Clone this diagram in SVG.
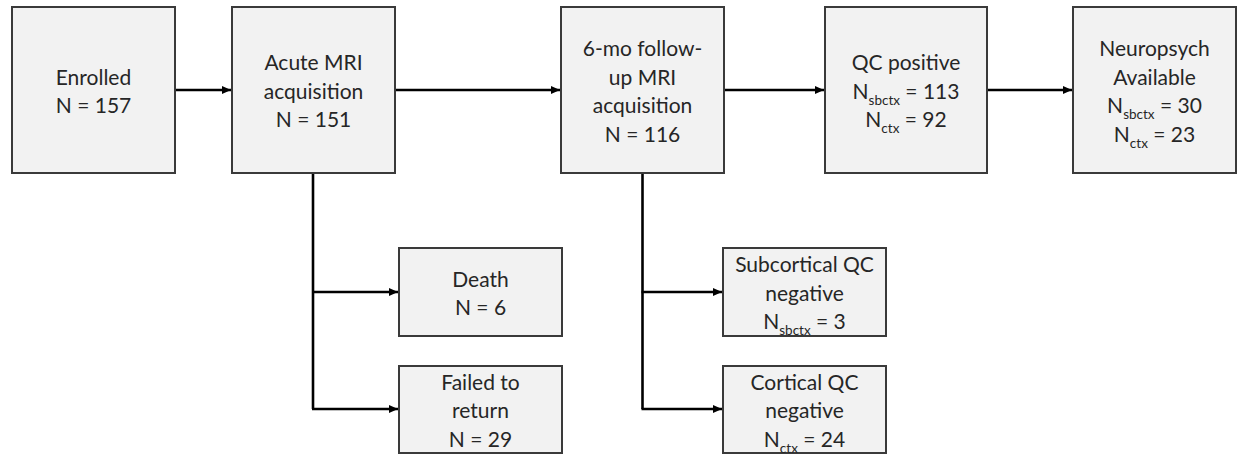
<svg xmlns="http://www.w3.org/2000/svg" width="1239" height="456" viewBox="0 0 1239 456">
<style>
.box{fill:#f2f2f2;stroke:#3a3a3a;stroke-width:2}
.t{font-family:Lato,"Liberation Sans",sans-serif;font-size:21px;fill:#262626;text-anchor:middle}
.s{font-size:13.5px}
.c{fill:none;stroke:#000;stroke-width:2.6}
</style>
<defs>
<marker id="ah" markerUnits="userSpaceOnUse" markerWidth="10" markerHeight="10" refX="9" refY="5" orient="auto">
<path d="M0,1 L9,5 L0,9 Z" fill="#000"/>
</marker>
</defs>
<rect width="1239" height="456" fill="#fff"/>
<g id="connectors">
<line class="c" x1="175" y1="90" x2="231" y2="90" marker-end="url(#ah)"/>
<line class="c" x1="395" y1="90" x2="560" y2="90" marker-end="url(#ah)"/>
<line class="c" x1="724" y1="90" x2="824" y2="90" marker-end="url(#ah)"/>
<line class="c" x1="987" y1="90" x2="1072" y2="90" marker-end="url(#ah)"/>
<path class="c" d="M313,173 V409"/>
<line class="c" x1="312" y1="292" x2="398" y2="292" marker-end="url(#ah)"/>
<line class="c" x1="312" y1="409" x2="398" y2="409" marker-end="url(#ah)"/>
<path class="c" d="M642.5,173 V409"/>
<line class="c" x1="641.5" y1="292" x2="722" y2="292" marker-end="url(#ah)"/>
<line class="c" x1="641.5" y1="409" x2="722" y2="409" marker-end="url(#ah)"/>
</g>
<g id="enrolled">
<rect class="box" x="12" y="7" width="163" height="166"/>
<text class="t" x="93.5" y="84.5">Enrolled</text>
<text class="t" x="93.5" y="113">N = 157</text>
</g>
<g id="acute">
<rect class="box" x="232" y="7" width="163" height="166"/>
<text class="t" x="313.5" y="70">Acute MRI</text>
<text class="t" x="313.5" y="98.5">acquisition</text>
<text class="t" x="313.5" y="127">N = 151</text>
</g>
<g id="followup">
<rect class="box" x="561" y="7" width="163" height="166"/>
<text class="t" x="642.5" y="56">6-mo follow-</text>
<text class="t" x="642.5" y="84.5">up MRI</text>
<text class="t" x="642.5" y="113">acquisition</text>
<text class="t" x="642.5" y="141.5">N = 116</text>
</g>
<g id="qcpositive">
<rect class="box" x="825" y="7" width="162" height="166"/>
<text class="t" x="906" y="70">QC positive</text>
<text class="t" x="906" y="98.5">N<tspan class="s" dy="6">sbctx</tspan><tspan dy="-6"> = 113</tspan></text>
<text class="t" x="906" y="127">N<tspan class="s" dy="6">ctx</tspan><tspan dy="-6"> = 92</tspan></text>
</g>
<g id="neuropsych">
<rect class="box" x="1073" y="7" width="163" height="166"/>
<text class="t" x="1154.5" y="56">Neuropsych</text>
<text class="t" x="1154.5" y="84.5">Available</text>
<text class="t" x="1154.5" y="113">N<tspan class="s" dy="6">sbctx</tspan><tspan dy="-6"> = 30</tspan></text>
<text class="t" x="1154.5" y="141.5">N<tspan class="s" dy="6">ctx</tspan><tspan dy="-6"> = 23</tspan></text>
</g>
<g id="death">
<rect class="box" x="399" y="248" width="163" height="88"/>
<text class="t" x="480.5" y="286.5">Death</text>
<text class="t" x="480.5" y="315">N = 6</text>
</g>
<g id="failed">
<rect class="box" x="399" y="366" width="163" height="87"/>
<text class="t" x="480.5" y="389.5">Failed to</text>
<text class="t" x="480.5" y="418">return</text>
<text class="t" x="480.5" y="446.5">N = 29</text>
</g>
<g id="subcortical">
<rect class="box" x="723" y="248" width="163" height="88"/>
<text class="t" x="804.5" y="272">Subcortical QC</text>
<text class="t" x="804.5" y="300.5">negative</text>
<text class="t" x="804.5" y="329">N<tspan class="s" dy="6">sbctx</tspan><tspan dy="-6"> = 3</tspan></text>
</g>
<g id="cortical">
<rect class="box" x="723" y="366" width="163" height="87"/>
<text class="t" x="804.5" y="389.5">Cortical QC</text>
<text class="t" x="804.5" y="418">negative</text>
<text class="t" x="804.5" y="446.5">N<tspan class="s" dy="6">ctx</tspan><tspan dy="-6"> = 24</tspan></text>
</g>
</svg>
